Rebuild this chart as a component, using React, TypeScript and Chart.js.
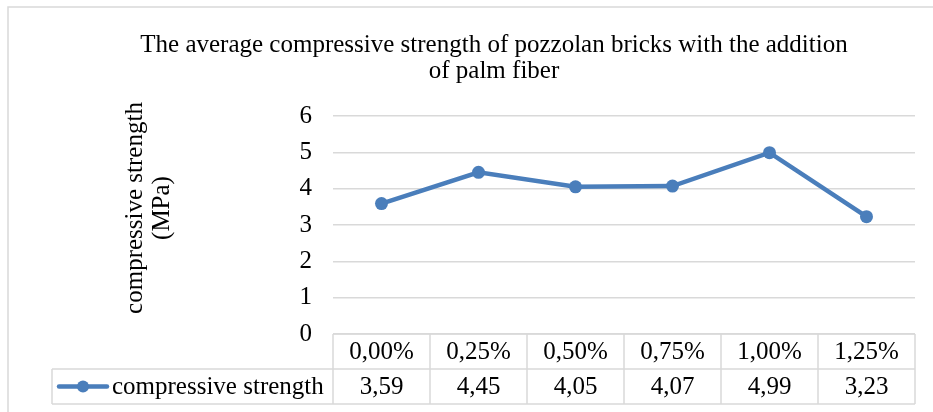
import React, { useEffect, useRef } from "react";
import { Chart, registerables } from "chart.js";

Chart.register(...registerables);

const categories = ["0,00%", "0,25%", "0,50%", "0,75%", "1,00%", "1,25%"];
const strengthValues = [3.59, 4.45, 4.05, 4.07, 4.99, 3.23];
const strengthLabels = ["3,59", "4,45", "4,05", "4,07", "4,99", "3,23"];
const seriesName = "compressive strength";
const titleLines = [
  "The average compressive strength of pozzolan bricks with the addition",
  "of palm fiber",
];
const yTitleLines = ["compressive strength", "(MPa)"];

const FONT = "'Liberation Serif', 'Times New Roman', serif";
const FS = 25;
const LINE_COLOR = "#4a7ebb";
const GRID = "#d9d9d9";

const decorPlugin = {
  id: "decor",
  afterDraw(chart: any) {
    const ctx = chart.ctx;
    const area = chart.chartArea;
    const x = chart.scales.x;
    const n = categories.length;
    const colW = (area.right - area.left) / n;
    const rowH = 35;
    const top = area.bottom;
    const mid = top + rowH;
    const bot = mid + rowH;
    const tableLeft = 52;

    ctx.save();
    // outer frame (top + left)
    ctx.strokeStyle = GRID;
    ctx.lineWidth = 1.5;
    ctx.beginPath();
    ctx.moveTo(8, 412);
    ctx.lineTo(8, 7);
    ctx.lineTo(933, 7);
    ctx.stroke();

    // title
    ctx.fillStyle = "#000";
    ctx.font = `${FS}px ${FONT}`;
    ctx.textAlign = "center";
    ctx.textBaseline = "middle";
    ctx.fillText(titleLines[0], 494, 45);
    ctx.fillText(titleLines[1], 494, 71);

    // y title
    ctx.save();
    ctx.translate(148, 208);
    ctx.rotate(-Math.PI / 2);
    ctx.font = `${FS}px ${FONT}`;
    ctx.fillText(yTitleLines[0], 0, -13);
    ctx.fillText(yTitleLines[1], 0, 14);
    ctx.restore();

    // table grid
    ctx.strokeStyle = GRID;
    ctx.lineWidth = 1.5;
    ctx.beginPath();
    ctx.moveTo(area.left, top);
    ctx.lineTo(area.right, top);
    ctx.moveTo(tableLeft, mid);
    ctx.lineTo(area.right, mid);
    ctx.moveTo(tableLeft, bot);
    ctx.lineTo(area.right, bot);
    ctx.moveTo(tableLeft, mid);
    ctx.lineTo(tableLeft, bot);
    for (let i = 0; i <= n; i++) {
      const cx = area.left + i * colW;
      ctx.moveTo(cx, top);
      ctx.lineTo(cx, bot);
    }
    ctx.stroke();

    // table text
    ctx.fillStyle = "#000";
    ctx.font = `${FS}px ${FONT}`;
    ctx.textAlign = "center";
    ctx.textBaseline = "middle";
    for (let i = 0; i < n; i++) {
      const cx = x.getPixelForValue(i);
      ctx.fillText(categories[i], cx, top + rowH / 2 + 1);
      ctx.fillText(strengthLabels[i], cx, mid + rowH / 2 + 1);
    }

    // legend key
    const ly = mid + rowH / 2;
    ctx.strokeStyle = LINE_COLOR;
    ctx.lineWidth = 4.5;
    ctx.lineCap = "round";
    ctx.beginPath();
    ctx.moveTo(59, ly);
    ctx.lineTo(107, ly);
    ctx.stroke();
    ctx.fillStyle = LINE_COLOR;
    ctx.beginPath();
    ctx.arc(83, ly, 6, 0, Math.PI * 2);
    ctx.fill();
    ctx.fillStyle = "#000";
    ctx.textAlign = "left";
    ctx.fillText(seriesName, 112, ly + 1);
    ctx.restore();
  },
};

export default function App() {
  const ref = useRef<HTMLCanvasElement>(null);
  useEffect(() => {
    if (!ref.current) return;
    const chart = new Chart(ref.current, {
      type: "line",
      data: {
        labels: categories,
        datasets: [
          {
            label: seriesName,
            data: strengthValues,
            borderColor: LINE_COLOR,
            backgroundColor: LINE_COLOR,
            borderWidth: 4.5,
            pointRadius: 6.5,
            pointHoverRadius: 6.5,
            pointBorderWidth: 0,
            tension: 0,
          },
        ],
      },
      options: {
        responsive: false,
        animation: false,
        devicePixelRatio: 1,
        layout: { padding: { top: 116, right: 18, bottom: 0, left: 0 } },
        plugins: {
          legend: { display: false },
          title: { display: false },
          tooltip: { enabled: false },
        },
        scales: {
          x: {
            type: "category",
            offset: true,
            grid: { display: false },
            border: { display: false },
            ticks: { display: false },
            afterFit: (s: any) => {
              s.height = 78;
            },
          },
          y: {
            min: 0,
            max: 6,
            ticks: {
              stepSize: 1,
              color: "#000",
              padding: 21,
              font: { family: FONT, size: FS },
            },
            grid: { color: GRID, lineWidth: 1.5, drawTicks: false },
            border: { display: false },
            afterFit: (s: any) => {
              s.width = 333;
            },
          },
        },
      },
      plugins: [decorPlugin],
    });
    return () => chart.destroy();
  }, []);
  return (
    <div style={{ position: "absolute", left: 0, top: 0, width: 933, height: 412, background: "#fff" }}>
      <canvas ref={ref} width={933} height={412} style={{ display: "block" }} />
    </div>
  );
}
